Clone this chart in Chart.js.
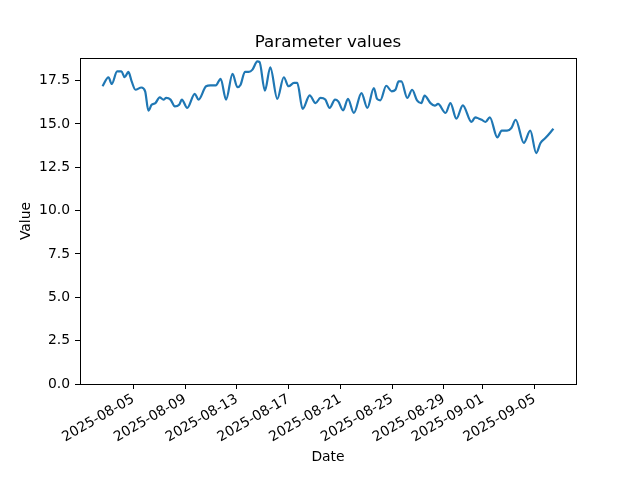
<!DOCTYPE html>
<html>
<head>
<meta charset="utf-8">
<script src="https://cdn.jsdelivr.net/npm/chart.js@4.4.1/dist/chart.umd.min.js"></script>
<style>
  html, body { margin: 0; padding: 0; background: #fff; }
  canvas { display: block; }
</style>
</head>
<body>
<canvas id="chart" width="640" height="480"></canvas>
<script>
// Sample times (UTC) and parameter values
const times = [
  '2025-08-02T15:00', '2025-08-03T02:00', '2025-08-03T08:00', '2025-08-03T18:00',
  '2025-08-04T02:00', '2025-08-04T08:00', '2025-08-04T15:00', '2025-08-04T21:00',
  '2025-08-05T04:00', '2025-08-05T15:00', '2025-08-05T22:00', '2025-08-06T04:00',
  '2025-08-06T10:00', '2025-08-06T17:00', '2025-08-07T01:00', '2025-08-07T08:00',
  '2025-08-07T13:00', '2025-08-07T21:00', '2025-08-08T05:00', '2025-08-08T13:00',
  '2025-08-08T18:00', '2025-08-09T04:00', '2025-08-09T18:00', '2025-08-10T01:00',
  '2025-08-10T15:00', '2025-08-10T23:00', '2025-08-11T09:00', '2025-08-11T18:00',
  '2025-08-12T04:00', '2025-08-12T16:00', '2025-08-13T01:00', '2025-08-13T07:00',
  '2025-08-13T15:00', '2025-08-13T22:00', '2025-08-14T05:00', '2025-08-14T14:00',
  '2025-08-14T18:00', '2025-08-15T04:00', '2025-08-15T14:00', '2025-08-16T03:00',
  '2025-08-16T15:00', '2025-08-17T00:00', '2025-08-17T10:00', '2025-08-17T16:00',
  '2025-08-18T02:00', '2025-08-18T15:00', '2025-08-19T02:00', '2025-08-19T11:00',
  '2025-08-19T20:00', '2025-08-20T04:00', '2025-08-20T14:00', '2025-08-20T20:00',
  '2025-08-21T05:00', '2025-08-21T14:00', '2025-08-22T01:00', '2025-08-22T15:00',
  '2025-08-23T02:00', '2025-08-23T14:00', '2025-08-23T20:00', '2025-08-24T02:00',
  '2025-08-24T13:00', '2025-08-24T23:00', '2025-08-25T06:00', '2025-08-25T12:00',
  '2025-08-25T17:00', '2025-08-26T04:00', '2025-08-26T13:00', '2025-08-26T22:00',
  '2025-08-27T06:00', '2025-08-27T12:00', '2025-08-27T23:00', '2025-08-28T07:00',
  '2025-08-28T13:00', '2025-08-29T03:00', '2025-08-29T12:00', '2025-08-29T23:00',
  '2025-08-30T11:00', '2025-08-31T03:00', '2025-08-31T10:00', '2025-08-31T17:00',
  '2025-08-31T22:00', '2025-09-01T05:00', '2025-09-01T13:00', '2025-09-02T03:00',
  '2025-09-02T11:00', '2025-09-02T21:00', '2025-09-03T05:00', '2025-09-03T13:00',
  '2025-09-04T04:00', '2025-09-04T16:00', '2025-09-05T03:00', '2025-09-05T11:00',
  '2025-09-05T20:00', '2025-09-06T11:00'
];

const values = [
  17.17, 17.69, 17.30, 18.03,
  18.03, 17.69, 18.00, 17.45,
  16.97, 17.10, 16.88, 15.76,
  16.10, 16.20, 16.53, 16.40,
  16.50, 16.40, 16.01, 16.10,
  16.40, 15.92, 16.73, 16.40,
  17.17, 17.22, 17.22, 17.60,
  16.40, 17.88, 17.12, 17.26,
  18.00, 18.00, 18.13, 18.60,
  18.57, 16.92, 18.26, 16.44,
  17.69, 17.17, 17.36, 17.36,
  15.86, 16.65, 16.20, 16.50,
  16.40, 15.92, 16.40, 16.30,
  15.78, 16.44, 15.63, 16.78,
  15.92, 17.07, 16.44, 16.36,
  17.20, 16.88, 16.97, 17.45,
  17.45, 16.50, 16.97, 16.36,
  16.20, 16.63, 16.20, 16.05,
  16.15, 15.63, 16.20, 15.30,
  16.07, 15.11, 15.38, 15.30,
  15.24, 15.11, 15.38, 14.22,
  14.61, 14.61, 14.76, 15.24,
  13.90, 14.61, 13.32, 13.90,
  14.18, 14.72
];

const xTickLabels = [
  '2025-08-05', '2025-08-09', '2025-08-13', '2025-08-17', '2025-08-21',
  '2025-08-25', '2025-08-29', '2025-09-01', '2025-09-05'
];
const yTicks = [0, 2.5, 5, 7.5, 10, 12.5, 15, 17.5];

const TITLE = 'Parameter values';

const toMs = (s) => Date.parse(s.length === 10 ? s + 'T00:00:00Z' : s + ':00Z');

const points = times.map((t, i) => ({ x: toMs(t), y: values[i] }));
const xTickValues = xTickLabels.map(toMs);

// matplotlib-like 5% margins on x
const xFirst = points[0].x;
const xLast = points[points.length - 1].x;
const xPad = (xLast - xFirst) * 0.05;

const FONT = 'DejaVu Sans';

// Full axes frame (all four spines) and a title centred over the plot area
const framePlugin = {
  id: 'frame',
  afterDatasetsDraw(chart) {
    const { ctx, chartArea: a } = chart;
    ctx.save();
    ctx.strokeStyle = '#000';
    ctx.lineWidth = 1;
    ctx.strokeRect(Math.round(a.left) + 0.5, Math.round(a.top) + 0.5,
      Math.round(a.right - a.left), Math.round(a.bottom - a.top));
    ctx.fillStyle = '#000';
    ctx.font = '16.7px "' + FONT + '"';
    ctx.textAlign = 'center';
    ctx.textBaseline = 'middle';
    ctx.fillText(TITLE, (a.left + a.right) / 2, 43);
    ctx.restore();
  }
};

new Chart(document.getElementById('chart'), {
  type: 'line',
  data: {
    datasets: [{
      data: points,
      borderColor: '#1f77b4',
      borderWidth: 2.2,
      pointRadius: 0,
      cubicInterpolationMode: 'monotone',
      fill: false
    }]
  },
  plugins: [framePlugin],
  options: {
    responsive: false,
    animation: false,
    devicePixelRatio: 1,
    layout: { padding: { left: 0, right: 64, top: 58, bottom: 0 } },
    plugins: {
      legend: { display: false },
      tooltip: { enabled: false },
      title: { display: false }
    },
    scales: {
      x: {
        type: 'linear',
        min: xFirst - xPad,
        max: xLast + xPad,
        afterBuildTicks: (s) => { s.ticks = xTickValues.map((v) => ({ value: v })); },
        afterFit: (s) => { s.height = 96; },
        border: { display: false },
        grid: { drawOnChartArea: false, drawTicks: true, tickLength: 5, color: '#000' },
        ticks: {
          autoSkip: false,
          minRotation: 30,
          maxRotation: 30,
          padding: 2,
          color: '#000',
          font: { family: FONT, size: 13.9 },
          callback: (v, i) => xTickLabels[i]
        },
        title: {
          display: true,
          text: 'Date',
          color: '#000',
          font: { family: FONT, size: 13.9 },
          padding: { top: 0, bottom: 14 }
        }
      },
      y: {
        type: 'linear',
        min: 0,
        max: 18.8,
        afterBuildTicks: (s) => { s.ticks = yTicks.map((v) => ({ value: v })); },
        afterFit: (s) => { s.width = 80; },
        border: { display: false },
        grid: { drawOnChartArea: false, drawTicks: true, tickLength: 5, color: '#000' },
        ticks: {
          padding: 5,
          color: '#000',
          font: { family: FONT, size: 13.9 },
          callback: (v) => v.toFixed(1)
        },
        title: {
          display: true,
          text: 'Value',
          color: '#000',
          font: { family: FONT, size: 13.9 },
          padding: { top: 18, bottom: 0 }
        }
      }
    }
  }
});
</script>
</body>
</html>
